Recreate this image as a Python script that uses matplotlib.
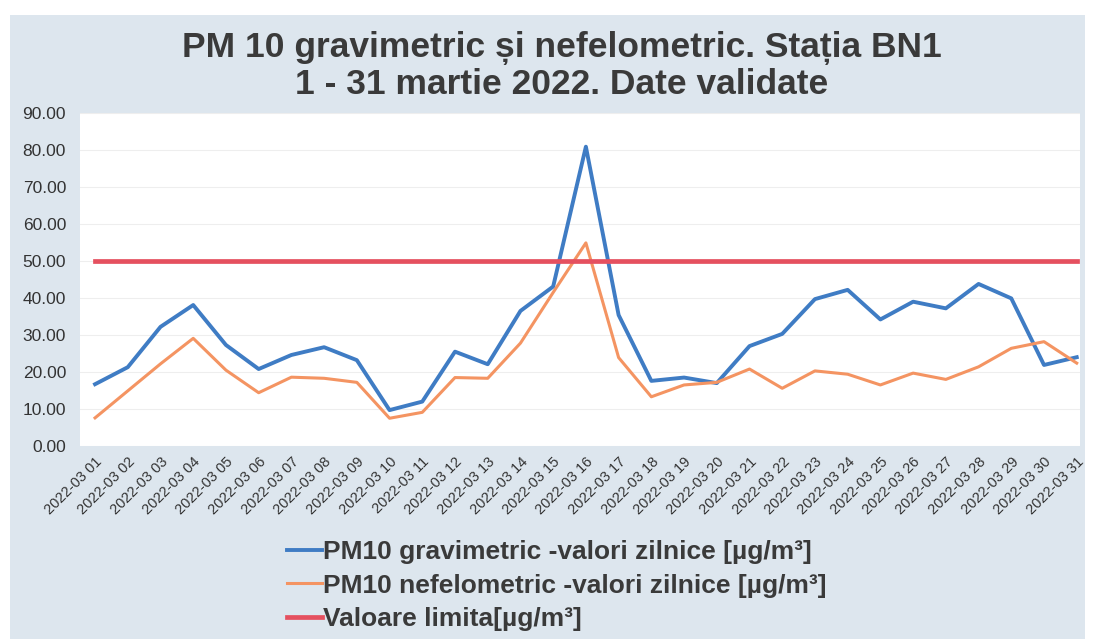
import matplotlib
matplotlib.use('Agg')
import matplotlib.pyplot as plt
from matplotlib.patches import Rectangle

plt.rcParams['font.family'] = ['Liberation Sans', 'DejaVu Sans']

# Daily values, 1 - 31 March 2022
days = ['2022-03 %02d' % d for d in range(1, 32)]
gravimetric = [16.7, 21.3, 32.2, 38.1, 27.3, 20.8, 24.6, 26.7, 23.2, 9.7,
               12.0, 25.5, 22.1, 36.5, 43.1, 80.9, 35.4, 17.6, 18.5, 17.0,
               27.0, 30.3, 39.7, 42.2, 34.2, 39.0, 37.2, 43.8, 39.9, 21.9,
               24.0]
nefelometric = [7.6, 14.9, 22.2, 29.1, 20.5, 14.4, 18.6, 18.3, 17.2, 7.5,
                9.1, 18.5, 18.3, 27.8, 41.5, 54.9, 23.9, 13.3, 16.5, 17.2,
                20.8, 15.6, 20.3, 19.4, 16.5, 19.7, 18.0, 21.4, 26.4, 28.2,
                22.4]
limit = [50.0] * len(days)

labels = ['PM10 gravimetric -valori zilnice [µg/m³]',
          'PM10 nefelometric -valori zilnice [µg/m³]',
          'Valoare limita[µg/m³]']

W, H = 1093, 639
fig = plt.figure(figsize=(W / 100, H / 100), dpi=100)
fig.patch.set_facecolor('white')

# light blue chart panel behind everything
fig.patches.append(Rectangle((10 / W, 0), 1075 / W, 1 - 15 / H,
                             transform=fig.transFigure, facecolor='#dde6ee',
                             edgecolor='none', zorder=-5))

ax = fig.add_axes([80 / W, 1 - 446 / H, 1000 / W, 333 / H])
ax.set_zorder(2)
ax.set_facecolor('white')

x = list(range(1, len(days) + 1))
l1, = ax.plot(x, gravimetric, color='#3f7cc4', lw=2.8, solid_joinstyle='round')
l2, = ax.plot(x, nefelometric, color='#f49462', lw=2.2, solid_joinstyle='round')
l3, = ax.plot(x, limit, color='#e5505f', lw=3.4)

ax.set_xlim(0.54, 31.1)
ax.set_ylim(0, 90)
ax.set_yticks(range(0, 91, 10))
ax.set_yticklabels(['%.2f' % v for v in range(0, 91, 10)], fontsize=12.5,
                   color='#333333')
ax.set_xticks(x)
ax.set_xticklabels(days, rotation=45, ha='right', rotation_mode='anchor',
                   fontsize=10.5, color='#333333')
ax.tick_params(length=0, pad=6)
ax.tick_params(axis='y', pad=10)
ax.grid(axis='y', color='#eeeeee', lw=0.8)
ax.set_axisbelow(True)
for s in ax.spines.values():
    s.set_visible(False)

fig.text(0.514, 1 - 48 / H, 'PM 10 gravimetric și nefelometric. Stația BN1',
         ha='center', va='center', fontsize=25.5, fontweight='bold',
         color='#3a3a3a')
fig.text(0.514, 1 - 85 / H, '1 - 31 martie 2022. Date validate',
         ha='center', va='center', fontsize=25.5, fontweight='bold',
         color='#3a3a3a')

fig.legend([l1, l2, l3], labels, loc='upper left',
           bbox_to_anchor=(274 / W, 1 - 527 / H), frameon=False,
           prop={'size': 19, 'weight': 'bold'}, labelcolor='#3a3a3a',
           handlelength=1.3, handletextpad=0.05, labelspacing=0.36,
           borderpad=0)

fig.savefig('out.png', dpi=100)
